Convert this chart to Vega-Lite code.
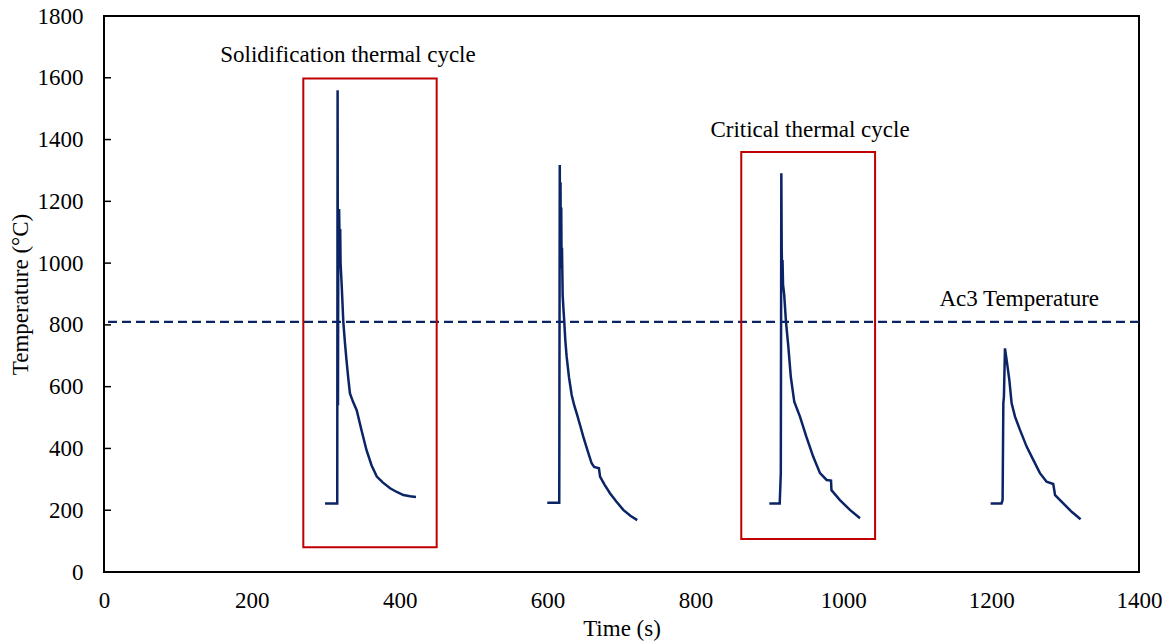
{
  "$schema": "https://vega.github.io/schema/vega-lite/v6.json",
  "width": 1035,
  "height": 556,
  "autosize": {"type": "none"},
  "padding": {"left": 104, "top": 16, "right": 31, "bottom": 72},
  "background": "#ffffff",
  "config": {
    "view": {"stroke": "#000000", "strokeWidth": 2},
    "font": "'Liberation Serif', 'Times New Roman', 'DejaVu Serif', serif",
    "axis": {
      "grid": false,
      "domain": false,
      "labelFont": "'Liberation Serif', 'Times New Roman', 'DejaVu Serif', serif",
      "titleFont": "'Liberation Serif', 'Times New Roman', 'DejaVu Serif', serif",
      "labelFontSize": 23,
      "titleFontSize": 23,
      "titleFontWeight": "normal",
      "labelColor": "#000000",
      "titleColor": "#000000"
    }
  },
  "datasets": {
    "temp": [
      {"cycle": 1, "t": 299, "T": 222}, {"cycle": 1, "t": 315.5, "T": 222}, {"cycle": 1, "t": 316, "T": 1560}, {"cycle": 1, "t": 316.5, "T": 540}, {"cycle": 1, "t": 317, "T": 1175}, {"cycle": 1, "t": 317.5, "T": 1050}, {"cycle": 1, "t": 318, "T": 1175}, {"cycle": 1, "t": 318.5, "T": 1100}, {"cycle": 1, "t": 319, "T": 1010}, {"cycle": 1, "t": 319.5, "T": 1110}, {"cycle": 1, "t": 320, "T": 1000}, {"cycle": 1, "t": 321.5, "T": 929}, {"cycle": 1, "t": 323.7, "T": 810}, {"cycle": 1, "t": 326, "T": 740}, {"cycle": 1, "t": 328, "T": 686}, {"cycle": 1, "t": 330.5, "T": 625}, {"cycle": 1, "t": 332.7, "T": 578}, {"cycle": 1, "t": 337, "T": 550}, {"cycle": 1, "t": 341.8, "T": 524}, {"cycle": 1, "t": 348, "T": 462}, {"cycle": 1, "t": 355, "T": 395}, {"cycle": 1, "t": 362, "T": 345}, {"cycle": 1, "t": 369, "T": 309}, {"cycle": 1, "t": 377, "T": 290}, {"cycle": 1, "t": 387, "T": 271}, {"cycle": 1, "t": 396, "T": 259}, {"cycle": 1, "t": 405, "T": 249}, {"cycle": 1, "t": 414, "T": 245}, {"cycle": 1, "t": 422, "T": 243},
      {"cycle": 2, "t": 599.6, "T": 224}, {"cycle": 2, "t": 615.8, "T": 224}, {"cycle": 2, "t": 616.5, "T": 1318}, {"cycle": 2, "t": 617, "T": 990}, {"cycle": 2, "t": 617.5, "T": 1262}, {"cycle": 2, "t": 618, "T": 1000}, {"cycle": 2, "t": 618.5, "T": 1180}, {"cycle": 2, "t": 619, "T": 983}, {"cycle": 2, "t": 619.5, "T": 1050}, {"cycle": 2, "t": 620.4, "T": 897}, {"cycle": 2, "t": 621.5, "T": 850}, {"cycle": 2, "t": 622.6, "T": 810}, {"cycle": 2, "t": 624, "T": 750}, {"cycle": 2, "t": 625.8, "T": 697}, {"cycle": 2, "t": 629, "T": 630}, {"cycle": 2, "t": 632.6, "T": 573}, {"cycle": 2, "t": 636, "T": 540}, {"cycle": 2, "t": 639.3, "T": 514}, {"cycle": 2, "t": 644, "T": 475}, {"cycle": 2, "t": 648.3, "T": 438}, {"cycle": 2, "t": 654, "T": 394}, {"cycle": 2, "t": 659.6, "T": 352}, {"cycle": 2, "t": 663, "T": 340}, {"cycle": 2, "t": 669.5, "T": 336}, {"cycle": 2, "t": 671, "T": 309}, {"cycle": 2, "t": 677, "T": 283}, {"cycle": 2, "t": 684.4, "T": 255}, {"cycle": 2, "t": 693, "T": 228}, {"cycle": 2, "t": 702.4, "T": 201}, {"cycle": 2, "t": 712, "T": 182}, {"cycle": 2, "t": 721.3, "T": 168},
      {"cycle": 3, "t": 900, "T": 222}, {"cycle": 3, "t": 914, "T": 222}, {"cycle": 3, "t": 915.5, "T": 320}, {"cycle": 3, "t": 916.2, "T": 1291}, {"cycle": 3, "t": 916.7, "T": 1050}, {"cycle": 3, "t": 917.3, "T": 960}, {"cycle": 3, "t": 917.8, "T": 1010}, {"cycle": 3, "t": 918.5, "T": 930}, {"cycle": 3, "t": 920, "T": 900}, {"cycle": 3, "t": 922.5, "T": 810}, {"cycle": 3, "t": 925.7, "T": 729}, {"cycle": 3, "t": 929, "T": 632}, {"cycle": 3, "t": 933.7, "T": 551}, {"cycle": 3, "t": 941.4, "T": 503}, {"cycle": 3, "t": 950, "T": 438}, {"cycle": 3, "t": 959.4, "T": 373}, {"cycle": 3, "t": 968.5, "T": 320}, {"cycle": 3, "t": 977.5, "T": 298}, {"cycle": 3, "t": 983.4, "T": 296}, {"cycle": 3, "t": 984, "T": 265}, {"cycle": 3, "t": 995.5, "T": 233}, {"cycle": 3, "t": 1009, "T": 201}, {"cycle": 3, "t": 1022.6, "T": 174},
      {"cycle": 4, "t": 1199.3, "T": 222}, {"cycle": 4, "t": 1214, "T": 222}, {"cycle": 4, "t": 1215.5, "T": 233}, {"cycle": 4, "t": 1216.5, "T": 546}, {"cycle": 4, "t": 1217.3, "T": 568}, {"cycle": 4, "t": 1218.7, "T": 724}, {"cycle": 4, "t": 1221, "T": 686}, {"cycle": 4, "t": 1224.6, "T": 622}, {"cycle": 4, "t": 1227.7, "T": 546}, {"cycle": 4, "t": 1232.3, "T": 503}, {"cycle": 4, "t": 1239, "T": 460}, {"cycle": 4, "t": 1248, "T": 406}, {"cycle": 4, "t": 1257, "T": 363}, {"cycle": 4, "t": 1266, "T": 320}, {"cycle": 4, "t": 1275, "T": 292}, {"cycle": 4, "t": 1284, "T": 285}, {"cycle": 4, "t": 1286.5, "T": 249}, {"cycle": 4, "t": 1297.6, "T": 222}, {"cycle": 4, "t": 1308.9, "T": 195}, {"cycle": 4, "t": 1321, "T": 171}
    ],
    "boxes": [
      {"x1": 269.6, "x2": 450, "y1": 80, "y2": 1598},
      {"x1": 862, "x2": 1043, "y1": 107, "y2": 1360}
    ],
    "labels": [
      {"x": 330, "y": 1674, "text": "Solidification  thermal cycle"},
      {"x": 955, "y": 1431, "text": "Critical thermal cycle"},
      {"x": 1238, "y": 884, "text": "Ac3 Temperature"}
    ],
    "ac3": [{"T": 810}],
    "yticks": [{"v": 200}, {"v": 400}, {"v": 600}, {"v": 800}, {"v": 1000}, {"v": 1200}, {"v": 1400}, {"v": 1600}]
  },
  "layer": [
    {
      "data": {"name": "yticks"},
      "mark": {"type": "rule", "color": "#000000", "strokeWidth": 1.5},
      "encoding": {
        "y": {"field": "v", "type": "quantitative", "scale": {"domain": [0, 1800]}},
        "x": {"datum": 0, "type": "quantitative", "scale": {"domain": [0, 1400]}},
        "x2": {"datum": 9.5}
      }
    },
    {
      "data": {"name": "ac3"},
      "mark": {"type": "rule", "color": "#0b2466", "strokeWidth": 2.2, "strokeDash": [9, 5]},
      "encoding": {
        "y": {"field": "T", "type": "quantitative", "scale": {"domain": [0, 1800]}}
      }
    },
    {
      "data": {"name": "boxes"},
      "mark": {"type": "rect", "fill": null, "fillOpacity": 0, "stroke": "#c00000", "strokeWidth": 2},
      "encoding": {
        "x": {"field": "x1", "type": "quantitative", "scale": {"domain": [0, 1400]}},
        "x2": {"field": "x2"},
        "y": {"field": "y1", "type": "quantitative", "scale": {"domain": [0, 1800]}},
        "y2": {"field": "y2"}
      }
    },
    {
      "data": {"name": "temp"},
      "mark": {"type": "line", "color": "#0b2466", "strokeWidth": 2.5},
      "encoding": {
        "x": {
          "field": "t", "type": "quantitative",
          "scale": {"domain": [0, 1400], "nice": false, "zero": false},
          "axis": {"title": "Time (s)", "format": "d", "values": [0, 200, 400, 600, 800, 1000, 1200, 1400], "ticks": false, "labelPadding": 17, "titlePadding": 5, "labelFlush": false}
        },
        "y": {
          "field": "T", "type": "quantitative",
          "scale": {"domain": [0, 1800], "nice": false},
          "axis": {"title": "Temperature (°C)", "format": "d", "values": [0, 200, 400, 600, 800, 1000, 1200, 1400, 1600, 1800], "ticks": false, "labelPadding": 21, "titlePadding": 5, "labelFlush": false}
        },
        "detail": {"field": "cycle", "type": "nominal"},
        "order": {"value": null}
      }
    },
    {
      "data": {"name": "labels"},
      "mark": {"type": "text", "fontSize": 23, "font": "'Liberation Serif', 'Times New Roman', 'DejaVu Serif', serif", "color": "#000000", "align": "center", "baseline": "middle"},
      "encoding": {
        "x": {"field": "x", "type": "quantitative"},
        "y": {"field": "y", "type": "quantitative"},
        "text": {"field": "text"}
      }
    }
  ]
}
